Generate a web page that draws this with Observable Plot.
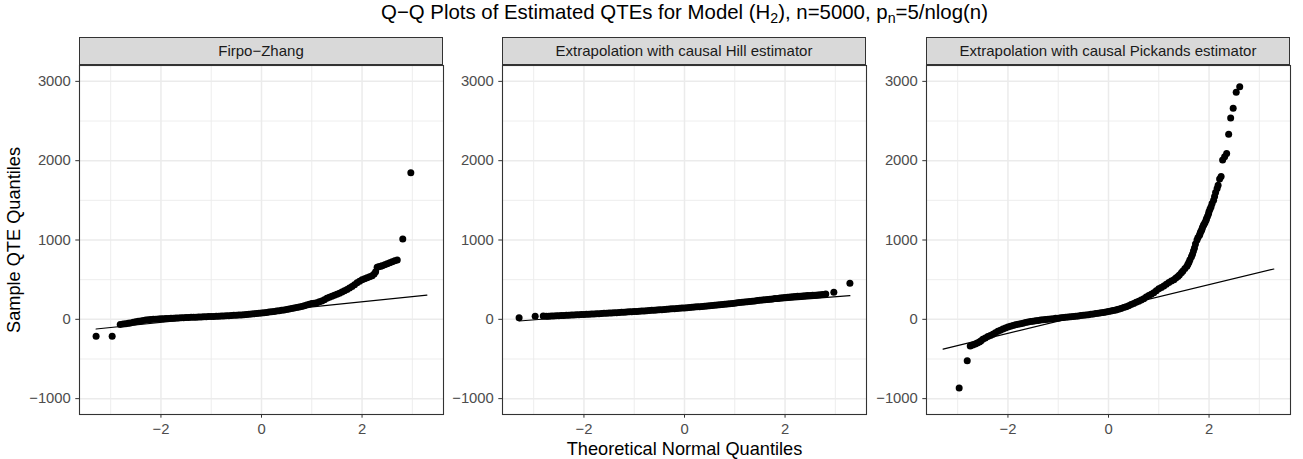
<!DOCTYPE html>
<html><head><meta charset="utf-8">
<script src="https://cdn.jsdelivr.net/npm/d3@7"></script>
<script src="https://cdn.jsdelivr.net/npm/@observablehq/plot@0.6"></script>
<style>
body{margin:0;background:#fff;font-family:"Liberation Sans",Arial,Helvetica,sans-serif;}
#root{position:relative;width:1303px;height:459px;overflow:hidden;background:#fff}
.strip{position:absolute;top:37px;height:28px;box-sizing:border-box;border:1px solid #333;background:#D9D9D9;color:#1A1A1A;font-size:15px;text-align:center;line-height:26px;white-space:nowrap}
.svgwrap{position:absolute;top:0}
.title{position:absolute;top:0px;left:684.5px;transform:translateX(-50%);font-size:20.4px;color:#000;white-space:nowrap;line-height:24px}
.sub{font-size:0.7em;vertical-align:-0.3em}
.xlab{position:absolute;left:684.5px;top:438px;transform:translateX(-50%);font-size:18.2px;white-space:nowrap;line-height:22px}
.ylab{position:absolute;left:14px;top:240px;transform:translate(-50%,-50%) rotate(-90deg);font-size:18.2px;white-space:nowrap;line-height:22px}
g[aria-label$="tick label"]{fill:#4D4D4D}
g[aria-label$="-axis tick"]{stroke:#333333}
</style>
</head><body>
<div id="root">
  <div class="title">Q−Q Plots of Estimated QTEs for Model (H<span class="sub">2</span>), n=5000, p<span class="sub">n</span>=5/nlog(n)</div>
  <div class="ylab">Sample QTE Quantiles</div>
  <div class="xlab">Theoretical Normal Quantiles</div>
</div>
<script>
// ---- data ----
const panelTitles = ["Firpo−Zhang", "Extrapolation with causal Hill estimator", "Extrapolation with causal Pickands estimator"];

const xMajor = [-2, 0, 2];
const xMinor = [-3, -1, 1, 3];
const yMajor = [-1000, 0, 1000, 2000, 3000];
const yMinor = [-500, 500, 1500, 2500];
const xDomain = [-3.62, 3.62];
const yDomain = [-1200, 3200];

// Firpo-Zhang: theoretical quantile / sample quantile
const fzQ = [
-3.29,-2.97,-2.81,-2.75,-2.70,-2.65,-2.61,-2.55,-2.50,-2.45,
-2.40,-2.35,-2.30,-2.25,-2.20,-2.15,-2.10,-2.05,-2.00,-1.95,
-1.90,-1.85,-1.80,-1.75,-1.70,-1.65,-1.60,-1.55,-1.50,-1.45,
-1.40,-1.35,-1.30,-1.25,-1.20,-1.15,-1.10,-1.05,-1.00,-0.95,
-0.90,-0.85,-0.80,-0.75,-0.70,-0.65,-0.60,-0.55,-0.50,-0.45,
-0.40,-0.35,-0.30,-0.25,-0.20,-0.15,-0.10,-0.05,0,0.05,
0.10,0.15,0.20,0.25,0.30,0.35,0.40,0.45,0.50,0.55,
0.60,0.65,0.70,0.75,0.80,0.85,0.90,0.95,1.00,1.05,
1.10,1.15,1.20,1.25,1.30,1.35,1.40,1.45,1.50,1.55,
1.60,1.65,1.70,1.75,1.80,1.85,1.90,1.95,2.00,2.05,
2.10,2.15,2.20,2.24,2.27,2.30,2.33,2.37,2.40,2.45,
2.50,2.55,2.60,2.65,2.70,2.81,2.97];
const fzV = [
-214,-214,-65,-60,-55,-50,-45,-37,-30,-25,
-20,-15,-10,-6,-3,0,2,4,6,8,
10,11,13,15,16,18,19,21,22,24,
25,26,27,29,30,31,32,34,35,37,
38,40,41,43,44,46,48,50,52,54,
56,58,61,63,66,69,72,76,80,83,
87,91,95,99,104,109,114,119,124,130,
136,143,150,156,163,171,180,189,198,204,
210,220,232,248,265,278,292,303,315,330,
345,360,375,395,415,437,460,480,500,513,
525,537,550,570,600,655,662,668,675,688,
700,712,725,737,748,1013,1849];

// Hill
const hillQ = [
-3.29,-2.97,-2.81,-2.75,-2.70,-2.65,-2.60,-2.55,-2.50,-2.45,
-2.40,-2.35,-2.30,-2.25,-2.20,-2.15,-2.10,-2.05,-2.00,-1.95,
-1.90,-1.85,-1.80,-1.75,-1.70,-1.65,-1.60,-1.55,-1.50,-1.45,
-1.40,-1.35,-1.30,-1.25,-1.20,-1.15,-1.10,-1.05,-1.00,-0.95,
-0.90,-0.85,-0.80,-0.75,-0.70,-0.65,-0.60,-0.55,-0.50,-0.45,
-0.40,-0.35,-0.30,-0.25,-0.20,-0.15,-0.10,-0.05,0,0.05,
0.10,0.15,0.20,0.25,0.30,0.35,0.40,0.45,0.50,0.55,
0.60,0.65,0.70,0.75,0.80,0.85,0.90,0.95,1.00,1.05,
1.10,1.15,1.20,1.25,1.30,1.35,1.40,1.45,1.50,1.55,
1.60,1.65,1.70,1.75,1.80,1.85,1.90,1.95,2.00,2.05,
2.10,2.15,2.20,2.25,2.30,2.35,2.40,2.45,2.50,2.55,
2.60,2.65,2.70,2.75,2.81,2.97,3.29];
const hillV = [
20,38,42,40,40,42,43,45,46,48,
49,51,52,54,55,57,58,60,61,63,
64,66,68,70,71,73,75,77,79,80,
82,84,86,88,90,92,94,96,98,100,
102,104,106,108,111,113,115,118,120,122,
124,127,129,132,134,137,139,142,144,147,
149,152,154,157,160,163,166,169,172,175,
178,181,184,188,191,194,197,201,204,208,
211,215,218,222,225,229,232,236,240,243,
247,250,254,257,261,264,268,271,275,278,
281,284,287,290,292,295,297,299,301,303,
305,308,310,314,320,340,454];

// Pickands
const pickQ = [
-2.97,-2.81,-2.75,-2.70,-2.65,-2.61,-2.57,-2.54,-2.50,-2.45,
-2.40,-2.35,-2.30,-2.25,-2.20,-2.15,-2.10,-2.05,-2.00,-1.95,
-1.90,-1.85,-1.80,-1.75,-1.70,-1.65,-1.60,-1.55,-1.50,-1.45,
-1.40,-1.35,-1.30,-1.25,-1.20,-1.15,-1.10,-1.05,-1.00,-0.95,
-0.90,-0.85,-0.80,-0.75,-0.70,-0.65,-0.60,-0.55,-0.50,-0.45,
-0.40,-0.35,-0.30,-0.25,-0.20,-0.15,-0.10,-0.05,0,0.05,
0.10,0.15,0.20,0.25,0.30,0.35,0.40,0.45,0.50,0.55,
0.60,0.65,0.70,0.75,0.80,0.85,0.90,0.95,1.00,1.05,
1.10,1.15,1.20,1.25,1.30,1.34,1.38,1.41,1.45,1.48,
1.52,1.56,1.58,1.60,1.62,1.65,1.67,1.69,1.71,1.73,
1.76,1.78,1.81,1.82,1.83,1.85,1.86,1.87,1.89,1.90,
1.92,1.94,1.95,1.97,1.99,2.00,2.02,2.04,2.06,2.09,
2.11,2.13,2.16,2.18,2.21,2.24,2.27,2.31,2.35,2.39,
2.43,2.48,2.54,2.61];
const pickV = [
-866,-522,-335,-325,-312,-300,-285,-272,-250,-234,
-218,-203,-188,-170,-152,-137,-122,-109,-97,-87,
-78,-70,-62,-55,-48,-41,-35,-29,-24,-19,
-14,-10,-6,-2,1,5,8,12,15,19,
22,26,29,33,36,40,43,47,51,55,
59,63,67,72,77,82,87,92,98,104,
110,118,127,137,148,160,172,186,200,214,
228,244,260,280,300,317,335,360,385,402,
420,442,465,482,500,520,540,560,588,610,
640,670,695,720,750,790,820,860,900,950,
1000,1030,1060,1080,1100,1120,1140,1160,1185,1200,
1220,1250,1270,1300,1330,1360,1390,1420,1460,1500,
1550,1600,1650,1690,1770,1800,2010,2050,2090,2332,
2538,2660,2862,2933];

// reference lines (endpoints)
const lineX = [-3.29, 3.29];
const fzLine = [-122, 306];
const hillLine = [-21, 298];
const pickLine = [-375, 634];

// ---- layout ----
const panelLefts = [79, 502, 926];
const panelW = 364;
const mL = 60, mR = 2;

const series = [[fzQ, fzV, fzLine], [hillQ, hillV, hillLine], [pickQ, pickV, pickLine]];
const root = document.getElementById("root");
const fmt = d3.format("d");

series.forEach(([qs, vs, ly], k) => {
  const pts = qs.map((q, i) => ({q, v: vs[i]}));
  const ln = lineX.map((q, i) => ({q, v: ly[i]}));
  const chart = Plot.plot({
    width: mL + panelW + mR,
    height: 459,
    marginLeft: mL, marginRight: mR, marginTop: 65, marginBottom: 45,
    x: {domain: xDomain, label: null},
    y: {domain: yDomain, label: null},
    style: {fontFamily: '"Liberation Sans", Arial, sans-serif', fontSize: "14.8px", background: "transparent", overflow: "visible"},
    marks: [
      Plot.ruleX(xMinor, {stroke: "#EBEBEB", strokeWidth: 0.9}),
      Plot.ruleY(yMinor, {stroke: "#EBEBEB", strokeWidth: 0.9}),
      Plot.ruleX(xMajor, {stroke: "#EBEBEB", strokeWidth: 1.5}),
      Plot.ruleY(yMajor, {stroke: "#EBEBEB", strokeWidth: 1.5}),
      Plot.dot(pts, {x: "q", y: "v", r: 3.5, fill: "black", stroke: "none"}),
      Plot.line(ln, {x: "q", y: "v", stroke: "black", strokeWidth: 1.2}),
      Plot.frame({stroke: "#333333", strokeWidth: 1.1}),
      Plot.axisX({ticks: xMajor, tickSize: 3.7, tickPadding: 5, tickFormat: fmt, fontSize: 14.8, label: null}),
      Plot.axisY({ticks: yMajor, tickSize: 3.7, tickPadding: 5, tickFormat: fmt, fontSize: 14.8, label: null})
    ]
  });
  const wrap = document.createElement("div");
  wrap.className = "svgwrap";
  wrap.style.left = (panelLefts[k] - mL) + "px";
  wrap.appendChild(chart);
  root.appendChild(wrap);

  const strip = document.createElement("div");
  strip.className = "strip";
  strip.style.left = panelLefts[k] + "px";
  strip.style.width = panelW + "px";
  strip.textContent = panelTitles[k];
  root.appendChild(strip);
});
</script>
</body></html>
